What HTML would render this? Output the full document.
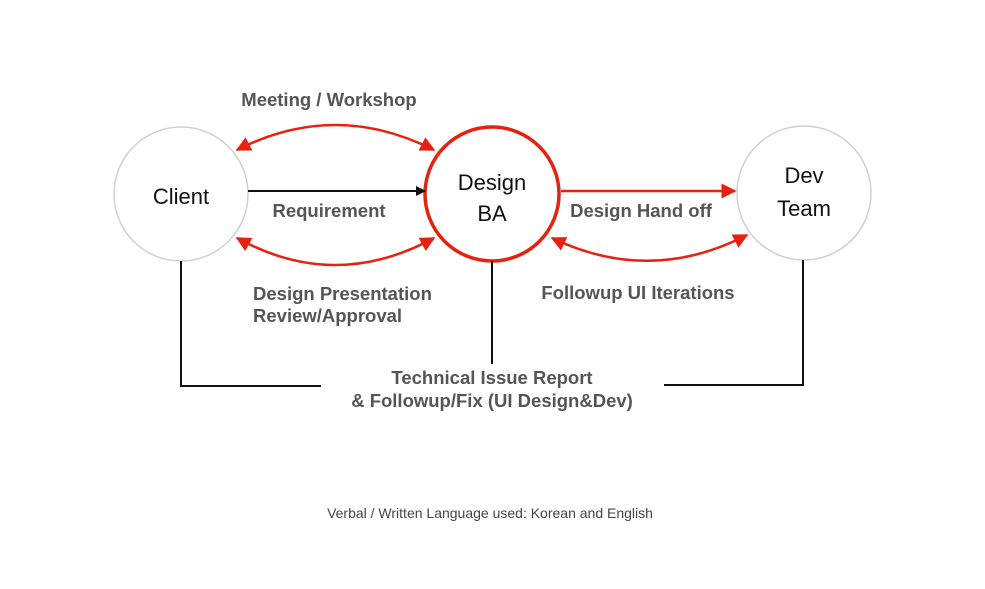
<!DOCTYPE html>
<html><head><meta charset="utf-8"><style>
html,body{margin:0;padding:0;background:#fff;}
svg{display:block;}
</style></head><body>
<svg width="985" height="589" viewBox="0 0 985 589" xmlns="http://www.w3.org/2000/svg" font-family="Liberation Sans, sans-serif">
<defs>
<marker id="r" viewBox="0 0 10 10" refX="9" refY="5" markerWidth="6" markerHeight="6" orient="auto-start-reverse"><path d="M0,0 L10,5 L0,10 z" fill="#e8200f"/></marker>
<marker id="k" viewBox="0 0 10 10" refX="9" refY="5" markerWidth="5" markerHeight="5" orient="auto"><path d="M0,0 L10,5 L0,10 z" fill="#111"/></marker>
</defs>
<circle cx="181" cy="194" r="67" fill="#fff" stroke="#d0d0d0" stroke-width="1.5"/>
<circle cx="492" cy="194" r="67" fill="#fff" stroke="#e8200f" stroke-width="3.5"/>
<circle cx="804" cy="193" r="67" fill="#fff" stroke="#d0d0d0" stroke-width="1.5"/>
<g fill="none" stroke-width="2.5" stroke="#e8200f">
<path d="M237,150 Q335,100 434,150" marker-start="url(#r)" marker-end="url(#r)"/>
<path d="M237,238 Q335,292 434,238" marker-start="url(#r)" marker-end="url(#r)"/>
<path d="M552,238 Q650,285 747,235" marker-start="url(#r)" marker-end="url(#r)"/>
<path d="M561,191 L735,191" marker-end="url(#r)"/>
</g>
<path d="M248,191 L425,191" stroke="#111" stroke-width="2" marker-end="url(#k)"/>
<g fill="none" stroke="#111" stroke-width="2">
<path d="M181,261 L181,386 L321,386"/>
<path d="M492,261 L492,364"/>
<path d="M803,260 L803,385 L664,385"/>
</g>
<g font-size="22" fill="#111" text-anchor="middle">
<text x="181" y="204">Client</text>
<text x="492" y="190">Design</text>
<text x="492" y="221">BA</text>
<text x="804" y="183">Dev</text>
<text x="804" y="216">Team</text>
</g>
<g font-size="18.5" font-weight="bold" fill="#555">
<text x="329" y="106" text-anchor="middle">Meeting / Workshop</text>
<text x="329" y="217" text-anchor="middle">Requirement</text>
<text x="253" y="300">Design Presentation</text>
<text x="253" y="322">Review/Approval</text>
<text x="641" y="217" text-anchor="middle">Design Hand off</text>
<text x="638" y="299" text-anchor="middle">Followup UI Iterations</text>
<text x="492" y="384" text-anchor="middle">Technical Issue Report</text>
<text x="492" y="407" text-anchor="middle">&amp; Followup/Fix (UI Design&amp;Dev)</text>
</g>
<text x="490" y="518" font-size="14" fill="#444" text-anchor="middle">Verbal / Written Language used: Korean and English</text>
</svg>
</body></html>
